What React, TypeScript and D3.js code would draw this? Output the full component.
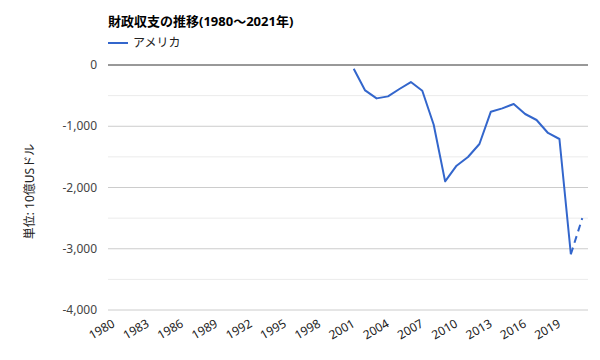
import React from "react";
import * as d3 from "d3";

const years: number[] = [];
for (let y = 1980; y <= 2021; y++) years.push(y);
const tickYears = [1980, 1983, 1986, 1989, 1992, 1995, 1998, 2001, 2004, 2007, 2010, 2013, 2016, 2019];
const dataYears = [2001, 2002, 2003, 2004, 2005, 2006, 2007, 2008, 2009, 2010, 2011, 2012, 2013, 2014, 2015, 2016, 2017, 2018, 2019, 2020, 2021];
const usValues = [-60, -415, -545, -512, -392, -278, -420, -975, -1900, -1644, -1502, -1290, -762, -708, -637, -800, -898, -1110, -1208, -3090, -2500];
const estimatedFrom = 2020;
const majorTicks = [0, -1000, -2000, -3000, -4000];
const minorTicks = [-500, -1500, -2500, -3500];
const title = "財政収支の推移(1980〜2021年)";
const seriesName = "アメリカ";
const yAxisTitle = "単位: 10億USドル";

const W = 600, H = 360;
const left = 108, right = 588, top = 65, bottom = 310;
const FONT = "'Noto Sans', 'Noto Sans CJK JP', sans-serif";
const BLUE = "#3366cc";

export default function App() {
  const x = d3.scaleBand<number>().domain(years).range([left, right]);
  const cx = (yr: number) => (x(yr) as number) + x.bandwidth() / 2;
  const y = d3.scaleLinear().domain([-4000, 0]).range([bottom, top]);
  const pts = dataYears.map((yr, i) => ({ yr, v: usValues[i] }));
  const line = d3.line<{ yr: number; v: number }>().x(d => cx(d.yr)).y(d => y(d.v));
  const solid = pts.filter(p => p.yr <= estimatedFrom);
  const dashed = pts.filter(p => p.yr >= estimatedFrom);
  return (
    <svg width={W} height={H} style={{ position: "absolute", left: 0, top: 0, background: "#fff" }} fontFamily={FONT}>
      <text x={left} y={26} fontSize={13} fontWeight="bold" fill="#000">{title}</text>
      <line x1={left} x2={left + 20} y1={43} y2={43} stroke={BLUE} strokeWidth={2} />
      <text x={left + 25} y={47} fontSize={12} fill="#222">{seriesName}</text>
      {minorTicks.map(t => (
        <line key={"m" + t} x1={left} x2={right} y1={y(t)} y2={y(t)} stroke="#ebebeb" strokeWidth={1} />
      ))}
      {majorTicks.filter(t => t !== 0).map(t => (
        <line key={"g" + t} x1={left} x2={right} y1={y(t)} y2={y(t)} stroke="#cccccc" strokeWidth={1} />
      ))}
      {majorTicks.map(t => (
        <text key={"t" + t} x={97} y={y(t) + 4} fontSize={12} fill="#444" textAnchor="end">{d3.format(",")(t).replace("−", "-")}</text>
      ))}
      <line x1={left} x2={right} y1={y(0)} y2={y(0)} stroke="#333" strokeWidth={1} />
      <text transform={`translate(34,${(top + bottom) / 2 + 4}) rotate(-90)`} fontSize={12} fill="#222" textAnchor="middle">{yAxisTitle}</text>
      {tickYears.map(t => (
        <text key={"x" + t} transform={`translate(${cx(t) + 2},${326}) rotate(-30)`} fontSize={12} fill="#222" textAnchor="end">{t}</text>
      ))}
      <path d={line(solid) || ""} fill="none" stroke={BLUE} strokeWidth={2} strokeLinejoin="round" />
      <path d={line(dashed) || ""} fill="none" stroke={BLUE} strokeWidth={2} strokeDasharray="7,5" />
    </svg>
  );
}
